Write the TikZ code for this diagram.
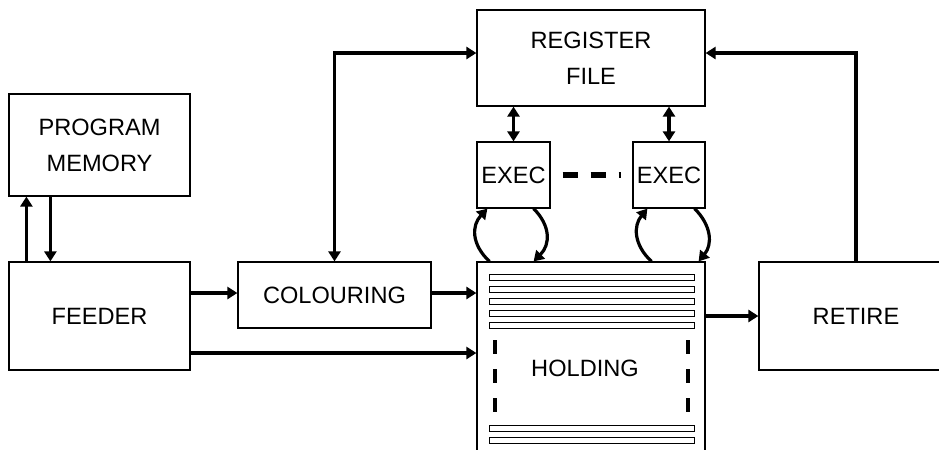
\documentclass[tikz,border=0pt]{standalone}
\usepackage{fontspec}
\setmainfont{Liberation Sans}
\usetikzlibrary{arrows.meta,calc}
\begin{document}
\begin{tikzpicture}[x=0.5pt,y=-0.5pt,
  box/.style={draw,line width=0.6pt,inner sep=0pt,align=center,
    font=\fontsize{11.8}{18}\selectfont},
  arr/.style={line width=1.6pt,-{Triangle[length=5pt,width=6pt]}},
  darr/.style={line width=1.6pt,{Triangle[length=5pt,width=6pt]}-{Triangle[length=5pt,width=6pt]}},
  bar/.style={draw,line width=0.5pt},
  vdash/.style={line width=2pt,dash pattern=on 7pt off 7.5pt},
  hdash/.style={line width=2.6pt,dash pattern=on 7.5pt off 6.5pt},
  lbl/.style={font=\fontsize{11.8}{18}\selectfont,inner sep=0pt}]
\useasboundingbox (0,0) rectangle (939,450);
% boxes
\node[box,minimum width=90.5pt,minimum height=51pt] (pm) at (99.5,145) {PROGRAM\\MEMORY};
\node[box,minimum width=90.5pt,minimum height=54pt] (feeder) at (99.5,316) {\raisebox{-2pt}{FEEDER}};
\node[box,minimum width=96.5pt,minimum height=33pt] (col) at (334.5,295) {COLOURING};
\node[box,minimum width=114pt,minimum height=48pt] (rf) at (591,58) {REGISTER\\FILE};
\node[box,minimum width=36.5pt,minimum height=33pt] (ex1) at (513.5,175) {EXEC};
\node[box,minimum width=36pt,minimum height=33pt] (ex2) at (669,175) {EXEC};
\node[box,minimum width=114pt,minimum height=99pt] (hold) at (591,361) {};
\node[lbl] (holdlbl) at (585,368) {HOLDING};
\node[box,minimum width=97pt,minimum height=54pt] (ret) at (856,316) {RETIRE};
% holding bars
\foreach \y in {274,286,298,310,322,425,437}
  \draw[bar] (489,\y) rectangle (694,\y+6);
\draw[vdash] (495,340) -- (495,413);
\draw[vdash] (688,340) -- (688,413);
% exec dashed link
\draw[hdash] ([xshift=6pt]ex1.east) -- ([xshift=-5.5pt]ex2.west);
% connectors
\draw[arr] ([xshift=9pt]feeder.north west) -- ([xshift=9pt]pm.south west);
\draw[arr] ([xshift=21pt]pm.south west) -- ([xshift=21pt]feeder.north west);
\draw[arr] ([yshift=1pt]feeder.east |- col.west) -- ([yshift=1pt]col.west);
\draw[arr] ([yshift=1pt]col.east) -- ([yshift=1pt]col.east -| hold.west);
\draw[arr] ([yshift=-18.5pt]feeder.east) -- ([yshift=-18.5pt]feeder.east -| hold.west);
\draw[arr] (ret.west -| hold.east) -- (ret.west);
\draw[arr] (ret.north) |- ([yshift=2.5pt]rf.east);
\draw[darr] (col.north) |- ([yshift=2.5pt]rf.west);
\draw[darr] (ex1.north) -- (ex1.north |- rf.south);
\draw[darr] (ex2.north) -- (ex2.north |- rf.south);
% loops
\draw[arr] ([xshift=6.5pt]hold.north west) .. controls +(-18,-17) and +(-16,17) .. ([xshift=5.5pt]ex1.south west);
\draw[arr] ([xshift=-8.5pt]ex1.south east) .. controls +(17,17) and +(17,-17) .. ([xshift=-8.5pt]ex1.south east |- hold.north);
\draw[arr] ([xshift=9.5pt]ex2.south west |- hold.north) .. controls +(-18,-17) and +(-14,17) .. ([xshift=7.5pt]ex2.south west);
\draw[arr] ([xshift=-5.5pt]ex2.south east) .. controls +(17,17) and +(14,-17) .. ([xshift=-3.5pt]hold.north east);
\end{tikzpicture}
\end{document}
